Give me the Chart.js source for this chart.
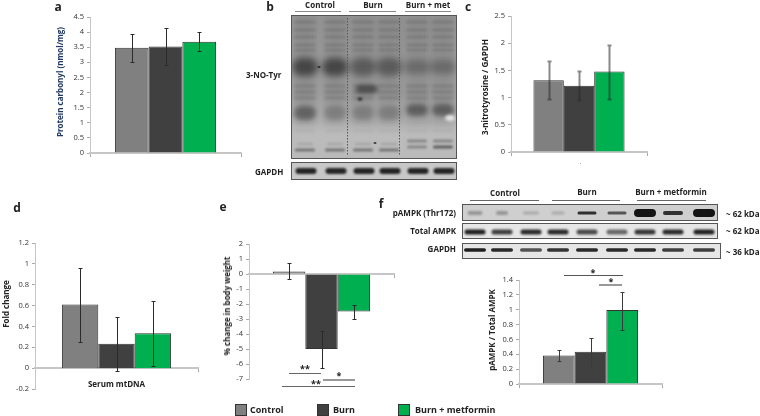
<!DOCTYPE html>
<html><head><meta charset="utf-8">
<script src="https://cdn.jsdelivr.net/npm/chart.js@4"></script>
<style>
html,body{margin:0;padding:0;background:#fff;width:760px;height:416px;overflow:hidden}
body{position:relative;font-family:"Open Sans",Lato,sans-serif}
canvas{position:absolute}
.t{position:absolute;white-space:nowrap;font-weight:700;color:#222;line-height:1;transform:translate(-50%,-50%)}
.l{transform:translate(0,-50%)}.r{transform:translate(-100%,-50%)}
.v{transform:translate(-50%,-50%) rotate(-90deg)}
.rule{position:absolute;height:1px;background:#555}
.box{position:absolute;width:10px;height:10px;border:1px solid #333}
</style></head><body>
<canvas id="blots" width="760" height="416" style="left:0;top:0"></canvas>
<script>
const groups = ['Control', 'Burn', 'Burn + metformin'];
const fills = ['#808080', '#404040', '#00b050'];

const carbonylMeans = [3.48, 3.52, 3.68];
const carbonylLow = [3.0, 2.9, 3.37];
const carbonylHigh = [3.93, 4.14, 4.0];

const nitroMeans = [1.32, 1.22, 1.48];
const nitroLow = [0.97, 0.95, 0.98];
const nitroHigh = [1.67, 1.49, 1.97];

const mtdnaMeans = [0.61, 0.235, 0.335];
const mtdnaLow = [0.255, -0.03, 0.025];
const mtdnaHigh = [0.96, 0.495, 0.64];

const weightMeans = [0.17, -5.0, -2.5];
const weightLow = [-0.35, -6.25, -3.0];
const weightHigh = [0.72, -3.8, -2.05];

const ampkMeans = [0.385, 0.435, 0.995];
const ampkLow = [0.305, 0.24, 0.73];
const ampkHigh = [0.46, 0.625, 1.245];

function makeChart(c) {
  const cv = document.createElement('canvas');
  const cl = c.left - 24, ct = c.top - 8, cr = c.right + 6, cb = c.bottom + 8;
  cv.style.left = cl + 'px'; cv.style.top = ct + 'px';
  cv.style.width = (cr - cl) + 'px'; cv.style.height = (cb - ct) + 'px';
  cv.width = cr - cl; cv.height = cb - ct;
  document.body.appendChild(cv);
  const errPlugin = {
    id: 'err',
    afterDatasetsDraw(ch) {
      const g = ch.ctx, y = ch.scales.y;
      g.save();
      c.means.forEach((m, i) => {
        const x = Math.round(ch.getDatasetMeta(i).data[0].x) + 0.5;
        const a = Math.round(y.getPixelForValue(c.low[i])) + 0.5, b = Math.round(y.getPixelForValue(c.high[i])) + 0.5;
        g.strokeStyle = c.errColor || '#2b2b2b'; g.lineWidth = c.errWidth || 1;
        g.beginPath();
        g.moveTo(x, a); g.lineTo(x, b);
        g.moveTo(x - 2, a); g.lineTo(x + 2, a);
        g.moveTo(x - 2, b); g.lineTo(x + 2, b);
        g.stroke();
      });
      g.restore();
    }
  };
  new Chart(cv, {
    type: 'bar',
    data: {
      labels: [c.category || ''],
      datasets: c.means.map((m, i) => ({
        label: groups[i], data: [m], backgroundColor: fills[i],
        borderColor: '#333', borderWidth: 1,
        categoryPercentage: c.catPct, barPercentage: 1
      }))
    },
    options: {
      responsive: false, animation: false, devicePixelRatio: 1,
      layout: { padding: { top: c.top - ct, bottom: cb - c.bottom, right: cr - c.right, left: 0 } },
      plugins: { legend: { display: false }, tooltip: { enabled: false } },
      scales: {
        x: {
          position: { y: 0 },
          grid: { display: true, drawOnChartArea: false, drawTicks: true, tickLength: 3, offset: true, color: '#aaa' },
          border: { display: true, color: '#c6c6c6', width: 2 },
          ticks: { display: !!c.category, padding: 9, color: '#222', maxRotation: 0,
                   font: { family: 'Open Sans', size: 8, weight: 'bold' } }
        },
        y: {
          min: c.min, max: c.max,
          afterFit(s) { s.width = c.left - cl; },
          grid: { drawOnChartArea: false, drawTicks: true, tickLength: 3, color: '#aaa' },
          border: { display: true, color: '#c6c6c6', width: 1 },
          ticks: { stepSize: c.step, padding: 3, color: '#333', autoSkip: false,
                   font: { family: 'Open Sans', size: 7.5 },
                   callback: v => String(+(+v).toFixed(1)) }
        }
      }
    },
    plugins: [errPlugin]
  });
}

makeChart({ left: 90, right: 241, top: 17, bottom: 153, min: 0, max: 4.5, step: 0.5, catPct: 0.67,
  means: carbonylMeans, low: carbonylLow, high: carbonylHigh });
makeChart({ left: 511, right: 647, top: 16, bottom: 152, min: 0, max: 2.5, step: 0.5, catPct: 0.67,
  means: nitroMeans, low: nitroLow, high: nitroHigh, errColor: 'rgba(40,40,40,.55)', errWidth: 2 });
makeChart({ left: 35, right: 198, top: 243, bottom: 389, min: -0.2, max: 1.2, step: 0.2, catPct: 0.67,
  category: 'Serum mtDNA', means: mtdnaMeans, low: mtdnaLow, high: mtdnaHigh });
makeChart({ left: 249, right: 394, top: 244, bottom: 379, min: -7, max: 2, step: 1, catPct: 0.67,
  means: weightMeans, low: weightLow, high: weightHigh });
makeChart({ left: 519, right: 662, top: 280, bottom: 384, min: 0, max: 1.4, step: 0.2, catPct: 0.665,
  means: ampkMeans, low: ampkLow, high: ampkHigh, errColor: '#3a3a3a' });

function text(s, x, y, size, cls, color) {
  const d = document.createElement('div');
  d.className = 't ' + (cls || ''); d.textContent = s;
  d.style.left = x + 'px'; d.style.top = y + 'px'; d.style.fontSize = size + 'px';
  if (color) d.style.color = color;
  document.body.appendChild(d);
}
function rule(x1, x2, y, color, h) {
  const d = document.createElement('div');
  d.className = 'rule';
  d.style.left = x1 + 'px'; d.style.width = (x2 - x1) + 'px'; d.style.top = y + 'px';
  if (color) d.style.background = color;
  if (h) d.style.height = h + 'px';
  document.body.appendChild(d);
}

text('Protein carbonyl (nmol/mg)', 60, 82, 8, 'v', '#1f3864');
text('3-nitrotyrosine / GAPDH', 485, 87, 8, 'v');
text('Fold change', 6, 304, 8, 'v');
text('% change in body weight', 227, 306, 8, 'v');
text('pAMPK / Total AMPK', 492, 330, 8, 'v');

[['a',58,7],['b',270,7],['c',468,7],['d',17,208],['e',223,207],['f',381,204]]
  .forEach(p => text(p[0], p[1], p[2], 12));

text('Control', 320, 5, 8); text('Burn', 373, 5, 8); text('Burn + met', 428, 5, 8);
rule(295, 341, 11, '#888'); rule(349, 396, 11, '#888'); rule(405, 451, 11, '#888');
text('3-NO-Tyr', 246, 75, 8, 'l'); text('GAPDH', 255, 172, 8, 'l');

text('Control', 505, 193, 8); text('Burn', 587, 192, 8); text('Burn + metformin', 671, 192, 8);
rule(470, 539, 200, '#666'); rule(552, 620, 200, '#666'); rule(637, 706, 200, '#666');
text('pAMPK (Thr172)', 456, 213, 8, 'r'); text('Total AMPK', 456, 231, 8, 'r'); text('GAPDH', 456, 249, 8, 'r');
text('~ 62 kDa', 726, 214, 8, 'l'); text('~ 62 kDa', 726, 231, 8, 'l'); text('~ 36 kDa', 726, 252, 8, 'l');

rule(289, 321, 373, '#666'); text('**', 305, 368, 9);
rule(323, 355, 379, '#999', 2); text('*', 339, 375, 9);
rule(282, 355, 386, '#666'); text('**', 316, 383, 9);
rule(564, 623, 275, '#555'); text('*', 593, 272, 9);
rule(599, 622, 284, '#999', 2); text('*', 611, 281, 9);
rule(580, 581, 163, '#aaa');

[[235,'Control',250,fills[0]],[317,'Burn',333,fills[1]],[398,'Burn + metformin',415,fills[2]]].forEach(l => {
  const b = document.createElement('div'); b.className = 'box';
  b.style.left = l[0] + 'px'; b.style.top = '404px'; b.style.background = l[3];
  document.body.appendChild(b);
  text(l[1], l[2], 409, 9, 'l');
});

(function drawBlots() {
  const g = document.getElementById('blots').getContext('2d');
  function frame(x, y, w, h, bg) {
    g.fillStyle = bg; g.fillRect(x, y, w, h);
    g.strokeStyle = '#555'; g.lineWidth = 1; g.strokeRect(x + .5, y + .5, w - 1, h - 1);
  }
  function band(cx, cy, w, h, a, blur) {
    g.save(); g.filter = 'blur(' + blur + 'px)';
    g.fillStyle = 'rgba(20,20,20,' + a + ')';
    g.beginPath(); g.roundRect(cx - w / 2, cy - h / 2, w, h, h / 2); g.fill();
    g.restore();
  }
  // panel b main blot
  const bx = 291, by = 15, bw = 166, bh = 144;
  const grad = g.createLinearGradient(0, by, 0, by + bh);
  grad.addColorStop(0, '#9a9a9a'); grad.addColorStop(.55, '#a6a6a6'); grad.addColorStop(.78, '#bcbcbc'); grad.addColorStop(1, '#bababa');
  frame(bx, by, bw, bh, grad);
  g.save(); g.beginPath(); g.rect(bx + 1, by + 1, bw - 2, bh - 2); g.clip();
  const lanes = [305, 335, 363, 389, 417, 443];
  lanes.forEach((x, i) => {
    const late = i > 3;
    g.save(); g.filter = 'blur(4px)'; g.fillStyle = 'rgba(30,30,30,.14)'; g.fillRect(x - 12, by, 24, 112); g.restore();
    [22, 30, 37, 45, 50].forEach(y => band(x, y, 22, 2.5, .14, 1.3));
    band(x, 67, 26, late ? 14 : 18, i < 2 ? .6 : (late ? .3 : .42), 3.5);
    [86, 92, 98].forEach(y => band(x, y, 22, 3, .17, 1.4));
    band(x, late ? 110 : 113, 22, late ? 12 : 14, i === 0 ? .42 : (late ? .45 : .22), 2.5);
    band(x, 131, 20, 2, .05, 1);
    if (late) { band(x, 141, 20, 3, .3, 1); band(x, 147, 20, 3, i === 5 ? .55 : .3, 1); }
    else { band(x, 150, 20, 3, .42, .9); band(x, 144, 16, 2, .14, 1); }
  });
  band(367, 89, 22, 8, .5, 2.2); band(360, 99, 5, 3, .8, .8);
  band(319, 67, 3, 2, .7, .5); band(375, 143, 3, 2, .7, .5);
  g.save(); g.filter = 'blur(1.5px)'; g.fillStyle = '#e6e6e6'; g.beginPath(); g.ellipse(450, 118, 5, 3, 0, 0, 7); g.fill(); g.restore();
  g.strokeStyle = '#555'; g.setLineDash([1.5, 1.5]);
  [347.5, 399.5].forEach(x => { g.beginPath(); g.moveTo(x, by + 3); g.lineTo(x, by + bh - 4); g.stroke(); });
  g.setLineDash([]);
  g.restore();
  // panel b GAPDH
  frame(291, 162, 166, 18, '#c8c8c8');
  lanes.forEach(x => band(x + 1, 171, 21, 6, .9, 1));
  // panel f blots
  const fx = [475, 502, 531, 558, 587, 617, 645, 673, 704];
  frame(462, 204, 256, 17, '#cfcfcf');
  const pw = [15, 12, 16, 13, 19, 19, 22, 20, 22], ph = [4, 4, 3, 3, 3, 3, 8, 4, 8], pa = [.3, .3, .2, .2, .85, .65, 1, .85, 1];
  fx.forEach((x, i) => band(x, 213, pw[i], ph[i], pa[i], i < 4 ? 1.3 : .7));
  frame(462, 223, 256, 16, '#e6e6e6');
  const ta = [.95, .8, .9, .9, .75, .6, .85, .9, .95];
  fx.forEach((x, i) => band(x, 232, 21, 5, ta[i], .8));
  frame(462, 243, 259, 16, '#e6e6e6');
  const ga = [.95, .9, .7, .85, .9, .9, .9, .8, .8];
  fx.forEach((x, i) => band(x, 250, 22, 3.5, ga[i], .7));
})();
</script>
</body></html>
